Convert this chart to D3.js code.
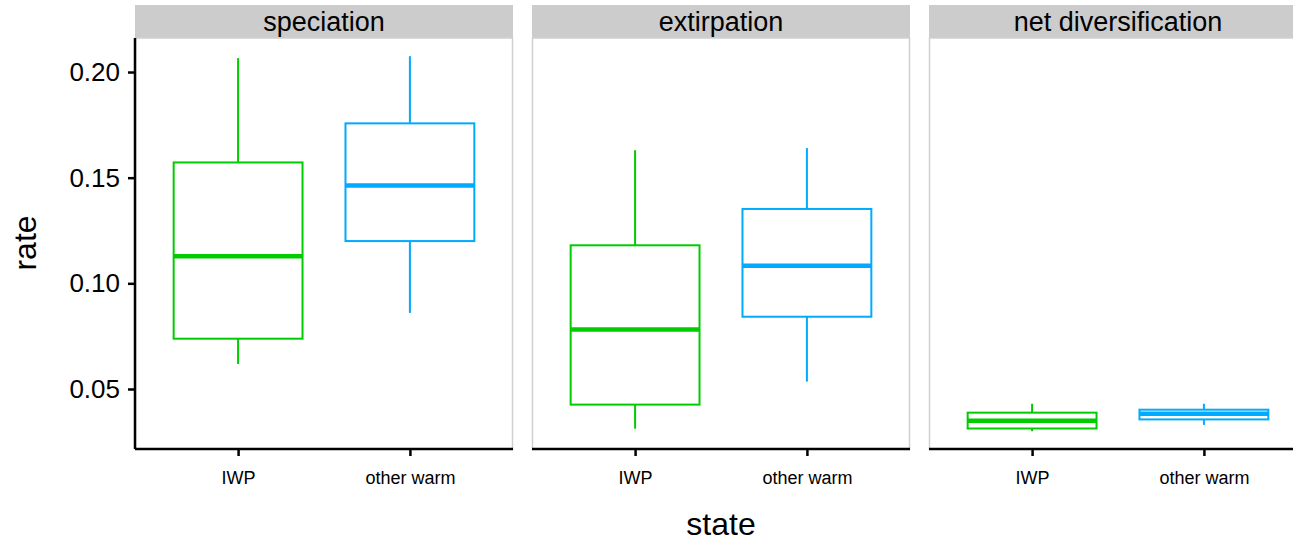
<!DOCTYPE html>
<html><head><meta charset="utf-8">
<script src="https://cdn.jsdelivr.net/npm/d3@7"></script>
<style>body{margin:0;background:#fff}text{font-family:"Liberation Sans",Arial,sans-serif}</style>
</head><body><svg id="c" width="1293" height="542"></svg>
<script>
var panels = ['speciation', 'extirpation', 'net diversification'];
var states = ['IWP', 'other warm'];
var colors = ['#00CC00', '#00AAFF'];
// [low, q1, median, q3, high] per panel per state
var statsIWP = [[0.0618, 0.0738, 0.1128, 0.1572, 0.2066], [0.0312, 0.0426, 0.0782, 0.1180, 0.1630], [0.0300, 0.0313, 0.0350, 0.0388, 0.0430]];
var statsOther = [[0.0860, 0.1200, 0.1463, 0.1757, 0.2075], [0.0535, 0.0842, 0.1083, 0.1352, 0.1640], [0.0330, 0.0356, 0.0383, 0.0402, 0.0430]];
var yTicks = [0.05, 0.10, 0.15, 0.20];

(function () {
var svg = d3.select('#c');
var plotTop = 38, plotBottom = 449, pw = 378, gap = 19, left0 = 135;
var y = d3.scaleLinear().domain([0.0216, 0.2161]).range([plotBottom, plotTop]);

panels.forEach(function (p, pi) {
  var x0 = left0 + pi * (pw + gap);
  var g = svg.append('g').attr('transform', 'translate(' + x0 + ',0)');
  var x = d3.scalePoint().domain(states).range([0, pw]).padding(0.6);
  var step = x.step();
  g.append('rect').attr('x', 0).attr('y', 5).attr('width', pw).attr('height', plotTop - 5).attr('fill', '#cccccc');
  g.append('text').attr('x', pw / 2).attr('y', 31).attr('text-anchor', 'middle').attr('font-size', 27).text(p);
  g.append('rect').attr('x', 0.5).attr('y', plotTop).attr('width', pw - 1).attr('height', plotBottom - plotTop)
    .attr('fill', 'none').attr('stroke', '#d0d0d0').attr('stroke-width', 1.5);
  [statsIWP[pi], statsOther[pi]].forEach(function (s, si) {
    var cx = x(states[si]), bw = step * 0.75, c = colors[si];
    g.append('line').attr('x1', cx).attr('x2', cx).attr('y1', y(s[4])).attr('y2', y(s[3])).attr('stroke', c).attr('stroke-width', 2);
    g.append('line').attr('x1', cx).attr('x2', cx).attr('y1', y(s[1])).attr('y2', y(s[0])).attr('stroke', c).attr('stroke-width', 2);
    g.append('rect').attr('x', cx - bw / 2).attr('y', y(s[3])).attr('width', bw).attr('height', y(s[1]) - y(s[3]))
      .attr('fill', '#fff').attr('stroke', c).attr('stroke-width', 2);
    g.append('line').attr('x1', cx - bw / 2).attr('x2', cx + bw / 2).attr('y1', y(s[2])).attr('y2', y(s[2])).attr('stroke', c).attr('stroke-width', 4.5);
  });
  var ax = g.append('g').attr('transform', 'translate(0,' + plotBottom + ')').call(d3.axisBottom(x).tickSize(7).tickPadding(15));
  ax.select('.domain').attr('d', 'M0,0H' + pw).attr('stroke-width', 2.5);
  ax.selectAll('.tick line').attr('stroke-width', 2.5);
  ax.selectAll('text').attr('font-size', 18).attr('font-family', '"Liberation Sans",Arial,sans-serif');
  if (pi === 0) {
    var ay = g.append('g').call(d3.axisLeft(y).tickValues(yTicks).tickFormat(d3.format('.2f')).tickSize(7).tickPadding(8));
    ay.select('.domain').attr('d', 'M0,' + plotBottom + 'V' + plotTop).attr('stroke-width', 2.5);
    ay.selectAll('.tick line').attr('stroke-width', 2.5);
    ay.selectAll('text').attr('font-size', 26).attr('font-family', '"Liberation Sans",Arial,sans-serif');
  }
});
svg.append('text').attr('x', 721).attr('y', 535).attr('text-anchor', 'middle').attr('font-size', 32).text('state');
svg.append('text').attr('transform', 'translate(36,243) rotate(-90)').attr('text-anchor', 'middle').attr('font-size', 32).text('rate');
})();
</script></body></html>
